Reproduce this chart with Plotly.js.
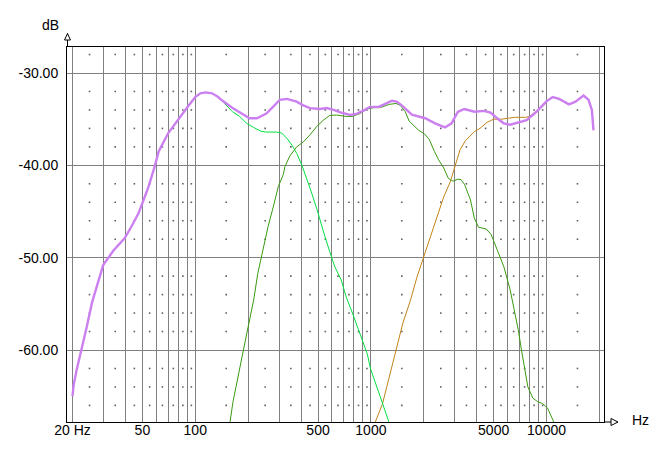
<!DOCTYPE html>
<html>
<head>
<meta charset="utf-8">
<script src="https://cdn.plot.ly/plotly-3.0.1.min.js"></script>
<style>
  html, body { margin: 0; padding: 0; background: #fff; }
  #chart { width: 672px; height: 469px; }
</style>
</head>
<body>
<div id="chart"></div>
<script>
// ---- data ----
const totalFreq = [20, 20.3, 21.1, 22.5, 24.1, 25.8, 27.5, 29.9, 34.3, 39.6, 43.4, 47.5, 50.8, 54.2, 59.0, 61.9, 70.2, 78.6, 89.5, 99.9, 107, 114.5, 124.6, 135, 140.6, 163, 188, 204, 224.6, 254, 278, 303, 333, 378, 412, 450, 512, 560, 613, 670, 765, 835, 900, 983, 1115, 1200, 1317, 1400, 1500, 1710, 2037, 2320, 2640, 2880, 3130, 3410, 3880, 4400, 4800, 5230, 5700, 6210, 7070, 7700, 8760, 9950, 10840, 11800, 13420, 14630, 16250, 17340, 18120, 18500];
const totalDb = [-65.0, -63.8, -62.2, -60.0, -57.5, -54.9, -53.0, -50.8, -49.2, -47.9, -46.6, -45.2, -43.75, -42.3, -40.0, -38.5, -36.5, -35.3, -33.8, -32.6, -32.2, -32.1, -32.2, -32.6, -32.9, -33.8, -34.5, -34.9, -34.9, -34.4, -33.65, -32.9, -32.8, -33.1, -33.5, -33.8, -33.9, -33.8, -34.0, -34.26, -34.55, -34.4, -34.1, -33.7, -33.65, -33.4, -33.0, -33.1, -33.5, -34.5, -34.9, -35.45, -35.9, -35.45, -34.2, -33.9, -34.2, -34.1, -34.3, -34.9, -35.45, -35.6, -35.3, -35.1, -34.2, -33.1, -32.6, -32.8, -33.4, -33.1, -32.45, -32.9, -34.0, -36.2];

const wooferFreq = [100, 107, 114.5, 124.6, 135, 150, 163, 179, 196, 215, 236, 254, 290, 311, 333, 355, 378, 405, 431, 460, 491, 512, 547, 583, 622, 677, 722, 785, 838, 894, 953, 994, 1058, 1130, 1200, 1270, 1330];
const wooferDb = [-32.6, -32.2, -32.1, -32.2, -32.6, -33.5, -34.2, -34.7, -35.45, -35.9, -36.3, -36.4, -36.4, -36.5, -37.1, -37.8, -38.7, -40.0, -41.4, -43.0, -44.65, -45.9, -47.7, -49.35, -50.95, -52.4, -54.2, -56.0, -57.5, -58.9, -60.4, -62.0, -63.6, -65.06, -66.5, -67.8, -69.0];

const midFreq = [150, 157.7, 164, 176, 188, 200, 215, 227, 244, 260, 278, 297, 317, 324, 345, 378, 413, 450, 491, 537, 583, 637, 722, 785, 867, 953, 1040, 1130, 1270, 1390, 1470, 1570, 1650, 1870, 2020, 2150, 2300, 2430, 2600, 2760, 2880, 2940, 3130, 3260, 3410, 3690, 3880, 4100, 4540, 4840, 5250, 5720, 6210, 6620, 6900, 7200, 7500, 7830, 8350, 8900, 9500, 10140, 11000, 11400];
const midDb = [-70.0, -67.8, -65.6, -62.5, -60.0, -57.5, -54.6, -51.7, -48.8, -46.6, -44.5, -42.3, -41.0, -40.15, -39.0, -38.0, -37.45, -36.7, -35.8, -35.1, -34.6, -34.55, -34.7, -34.7, -34.4, -33.9, -33.75, -33.75, -33.4, -33.3, -33.5, -34.2, -35.2, -36.2, -36.6, -37.2, -38.5, -39.4, -40.3, -41.4, -41.65, -41.7, -41.5, -41.55, -42.05, -43.75, -45.7, -46.7, -46.9, -47.5, -49.2, -51.0, -53.5, -56.0, -57.8, -60.0, -62.2, -64.0, -65.2, -65.6, -65.8, -66.3, -67.8, -69.0];

const tweeterFreq = [1020, 1060, 1165, 1270, 1390, 1520, 1680, 1830, 2000, 2190, 2330, 2600, 2830, 3030, 3220, 3460, 3880, 4180, 4580, 5000, 5560, 6060, 6600, 7600, 8000, 8520, 9500, 10500, 11000, 12000, 13420, 14630, 16250, 17340, 18120, 18500];
const tweeterDb = [-69.0, -67.8, -65.8, -62.9, -60.0, -57.1, -54.6, -52.1, -49.9, -47.7, -46.0, -43.4, -41.8, -39.9, -38.3, -37.3, -36.35, -36.0, -35.35, -35.0, -35.0, -34.9, -34.8, -34.8, -34.7, -34.3, -33.65, -32.7, -32.65, -32.9, -33.4, -33.1, -32.45, -32.9, -34.0, -36.2];

// ---- axis ticks ----
const xTickVals = [20, 50, 100, 500, 1000, 5000, 10000];
const xTickText = ['20 Hz', '50', '100', '500', '1000', '5000', '10000'];
const xMinorVals = [30, 40, 60, 70, 80, 90, 200, 300, 400, 600, 700, 800, 900, 2000, 3000, 4000, 6000, 7000, 8000, 9000, 20000];
const yTickVals = [-30, -40, -50, -60];
const yTickText = ['-30.00', '-40.00', '-50.00', '-60.00'];
const dotMantissas = [1.5, 2.5, 3.5, 4.5, 5.5, 6.5, 7.5, 8.5, 9.5];
const dotDecades = [10, 100, 1000, 10000];
const dotLevels = [-28, -32, -34, -36, -38, -42, -44, -46, -48, -52, -54, -56, -58, -62, -64, -66];

// grid-dot positions (decoration)
const dotX = [], dotY = [];
dotDecades.forEach(d => dotMantissas.forEach(m => {
  const f = m * d;
  if (f > 20 && f < 21000) dotLevels.forEach(l => { dotX.push(f); dotY.push(l); });
}));

// ---- geometry helpers (plot area 67..604 x 47..422 px) ----
const L = 67, R = 604, T = 47, B = 422;
const px = x => (x - L) / (R - L);
const py = y => (B - y) / (B - T);

const lineW = 1;
const traces = [
  { x: dotX, y: dotY, mode: 'markers', hoverinfo: 'skip',
    marker: { symbol: 'square', size: 1.6, line: { width: 0 }, color: '#606060' } },
  { x: tweeterFreq, y: tweeterDb, mode: 'lines', line: { color: '#c08418', width: lineW } },
  { x: wooferFreq, y: wooferDb, mode: 'lines', line: { color: '#00e040', width: lineW } },
  { x: midFreq, y: midDb, mode: 'lines', line: { color: '#3a9a10', width: lineW } },
  { x: totalFreq, y: totalDb, mode: 'lines', line: { color: '#cc80f0', width: 2.4 } }
];

const tickFont = { family: 'Liberation Sans, Arial, sans-serif', size: 14, color: '#000' };

const layout = {
  width: 672, height: 469,
  margin: { l: L, r: 672 - R, t: T, b: 469 - B, pad: 0 },
  paper_bgcolor: '#fff', plot_bgcolor: '#fff',
  showlegend: false, hovermode: false,
  xaxis: {
    type: 'log', range: [1.26971, 4.32722],
    tickmode: 'array', tickvals: xTickVals, ticktext: xTickText,
    showgrid: true, gridcolor: '#808080', gridwidth: 1,
    minor: { tickmode: 'array', tickvals: xMinorVals, showgrid: true, gridcolor: '#808080', gridwidth: 1, ticks: '' },
    showline: true, mirror: true, linecolor: '#000', linewidth: 1,
    ticks: '', zeroline: false, tickfont: tickFont, ticklabelstandoff: -5
  },
  yaxis: {
    range: [-67.798, -27.184],
    tickmode: 'array', tickvals: yTickVals, ticktext: yTickText,
    showgrid: true, gridcolor: '#808080', gridwidth: 1,
    showline: true, mirror: true, linecolor: '#000', linewidth: 1,
    ticks: '', zeroline: false, tickfont: tickFont, ticklabelstandoff: 5
  },
  shapes: [
    { type: 'line', xref: 'paper', yref: 'paper', x0: px(67.5), y0: py(33.5), x1: px(67.5), y1: py(47), line: { color: '#000', width: 1 } },
    { type: 'path', xref: 'paper', yref: 'paper',
      path: `M ${px(67.5)} ${py(33.5)} L ${px(64.5)} ${py(40)} L ${px(70.5)} ${py(40)} Z`,
      line: { color: '#000', width: 1 }, fillcolor: '#fff' },
    { type: 'line', xref: 'paper', yref: 'paper', x0: px(604), y0: py(422), x1: px(618), y1: py(422), line: { color: '#000', width: 1 } },
    { type: 'path', xref: 'paper', yref: 'paper',
      path: `M ${px(618)} ${py(422)} L ${px(611)} ${py(418.5)} L ${px(611)} ${py(425.5)} Z`,
      line: { color: '#000', width: 1 }, fillcolor: '#fff' }
  ],
  annotations: [
    { text: 'dB', xref: 'paper', yref: 'paper', x: px(50.5), y: py(25), xanchor: 'center', yanchor: 'middle', showarrow: false, font: tickFont },
    { text: 'Hz', xref: 'paper', yref: 'paper', x: px(640.5), y: py(419.5), xanchor: 'center', yanchor: 'middle', showarrow: false, font: tickFont }
  ]
};

Plotly.newPlot('chart', traces, layout, { staticPlot: true, displayModeBar: false });
</script>
</body>
</html>
